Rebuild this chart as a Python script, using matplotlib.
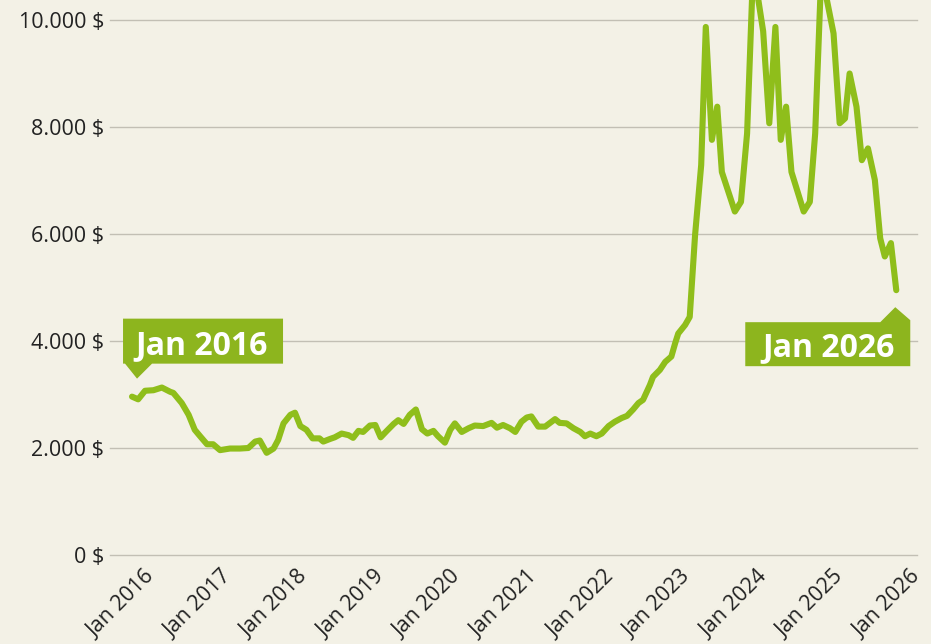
import matplotlib as mpl
# render without a window manager
mpl.use('Agg')

import numpy as np
import matplotlib.pyplot as plt
from matplotlib.patches import Polygon
from matplotlib.transforms import ScaledTranslation

# price over time, dates as decimal years
years = [2016.00, 2016.08, 2016.17, 2016.28, 2016.39, 2016.50, 2016.54, 2016.65, 2016.74, 2016.82,
         2016.89, 2016.98, 2017.06, 2017.15, 2017.28, 2017.41, 2017.52, 2017.61, 2017.67, 2017.76,
         2017.85, 2017.91, 2017.98, 2018.07, 2018.13, 2018.20, 2018.28, 2018.36, 2018.45, 2018.50,
         2018.59, 2018.65, 2018.74, 2018.83, 2018.89, 2018.96, 2019.02, 2019.11, 2019.18, 2019.25,
         2019.33, 2019.42, 2019.48, 2019.55, 2019.63, 2019.71, 2019.79, 2019.86, 2019.94, 2020.00,
         2020.09, 2020.16, 2020.22, 2020.31, 2020.40, 2020.48, 2020.59, 2020.70, 2020.77, 2020.85,
         2020.94, 2021.01, 2021.09, 2021.16, 2021.22, 2021.31, 2021.40, 2021.53, 2021.59, 2021.68,
         2021.77, 2021.86, 2021.92, 2021.99, 2022.07, 2022.14, 2022.23, 2022.31, 2022.40, 2022.47,
         2022.55, 2022.62, 2022.68, 2022.77, 2022.81, 2022.90, 2022.97, 2023.05, 2023.10, 2023.14,
         2023.23, 2023.29, 2023.36, 2023.44, 2023.50, 2023.58, 2023.65, 2023.71, 2023.88, 2023.96,
         2024.04, 2024.12, 2024.25, 2024.33, 2024.41, 2024.48, 2024.55, 2024.62, 2024.78, 2024.86,
         2024.93, 2025.01, 2025.17, 2025.25, 2025.32, 2025.38, 2025.47, 2025.54, 2025.62, 2025.71,
         2025.78, 2025.84, 2025.92, 2025.99]

prices = [2960, 2910, 3070, 3080, 3130, 3050, 3030, 2840, 2620, 2340,
          2220, 2070, 2070, 1960, 1990, 1990, 2000, 2120, 2140, 1910,
          1990, 2150, 2460, 2620, 2660, 2410, 2340, 2180, 2180, 2120,
          2170, 2200, 2270, 2240, 2190, 2320, 2300, 2420, 2430, 2200,
          2320, 2450, 2520, 2450, 2620, 2720, 2350, 2270, 2320, 2220,
          2100, 2340, 2460, 2300, 2370, 2420, 2410, 2470, 2380, 2430,
          2370, 2300, 2490, 2570, 2590, 2400, 2400, 2540, 2470, 2460,
          2370, 2300, 2220, 2270, 2220, 2270, 2410, 2490, 2560, 2600,
          2720, 2840, 2900, 3180, 3330, 3460, 3610, 3710, 3960, 4140,
          4300, 4450, 5980, 7290, 9870, 7760, 8380, 7160, 6420, 6600,
          7880, 11000, 9790, 8070, 9870, 7760, 8380, 7160, 6420, 6600,
          7880, 10900, 9750, 8070, 8160, 9000, 8380, 7380, 7600, 7010,
          5920, 5580, 5830, 4950]

tick_years = list(range(2016, 2027))
tick_labels = ['Jan {}'.format(y) for y in tick_years]
y_ticks = [0, 2000, 4000, 6000, 8000, 10000]
y_tick_labels = ['0 $', '2.000 $', '4.000 $', '6.000 $', '8.000 $', '10.000 $']

start_label = 'Jan 2016'
end_label = 'Jan 2026'

BG = '#f3f1e6'
GREEN = '#8fbe1b'
BOX = '#8db51e'
GRID = '#c2bfb4'

plt.rcParams['font.family'] = ['Open Sans', 'DejaVu Sans']

fig = plt.figure(figsize=(9.31, 6.44), dpi=100, facecolor=BG)
ax = fig.add_axes([110 / 931, 89 / 644, 807 / 931, 555 / 644])
ax.set_facecolor(BG)

ax.plot(years, prices, color=GREEN, lw=4.4, solid_joinstyle='round',
        solid_capstyle='round', zorder=3)

ax.set_xlim(2015.712, 2026.261)
ax.set_ylim(0, 10374)

for s in ax.spines.values():
    s.set_visible(False)

ax.set_yticks(y_ticks)
ax.set_yticklabels(y_tick_labels)
ax.set_xticks(tick_years)
ax.set_xticklabels(tick_labels, rotation=45, ha='right', va='center',
                   rotation_mode='anchor')
ax.tick_params(axis='both', length=0, labelsize=15.5, colors='#222222')
ax.tick_params(axis='y', pad=4.3)
ax.tick_params(axis='x', pad=0)
ax.grid(axis='y', color=GRID, lw=1.0, zorder=1)
ax.grid(axis='x', visible=False)
for gl in ax.get_ygridlines():
    gl.set_clip_on(False)

# shift the rotated year labels so their ends sit right of the tick
for lbl in ax.get_xticklabels():
    lbl.set_transform(lbl.get_transform() +
                      ScaledTranslation(0.20, -0.19, fig.dpi_scale_trans))


def flag(x, y, text, verts, text_xy):
    """green callout box, vertices given in pixel offsets from the point"""
    trans = fig.dpi_scale_trans + ScaledTranslation(x, y, ax.transData)
    poly = Polygon(np.array(verts) / 100.0, closed=True, transform=trans,
                   facecolor=BOX, edgecolor='none', zorder=5, clip_on=False)
    ax.add_patch(poly)
    ax.text(text_xy[0] / 100.0, text_xy[1] / 100.0, text, transform=trans,
            color='white', fontsize=23, fontweight='bold', ha='center',
            va='center_baseline', zorder=6, clip_on=False)


flag(years[0], prices[0], start_label,
     [(-9, 78), (151, 78), (151, 33), (20, 33), (5, 18), (-7, 33), (-9, 33)],
     (70, 55))
flag(years[-1], prices[-1], end_label,
     [(-151, -32), (-16, -32), (-1, -17), (14, -30), (14, -76), (-151, -76)],
     (-68, -53))

plt.savefig('out.png', dpi=100, facecolor=BG)
